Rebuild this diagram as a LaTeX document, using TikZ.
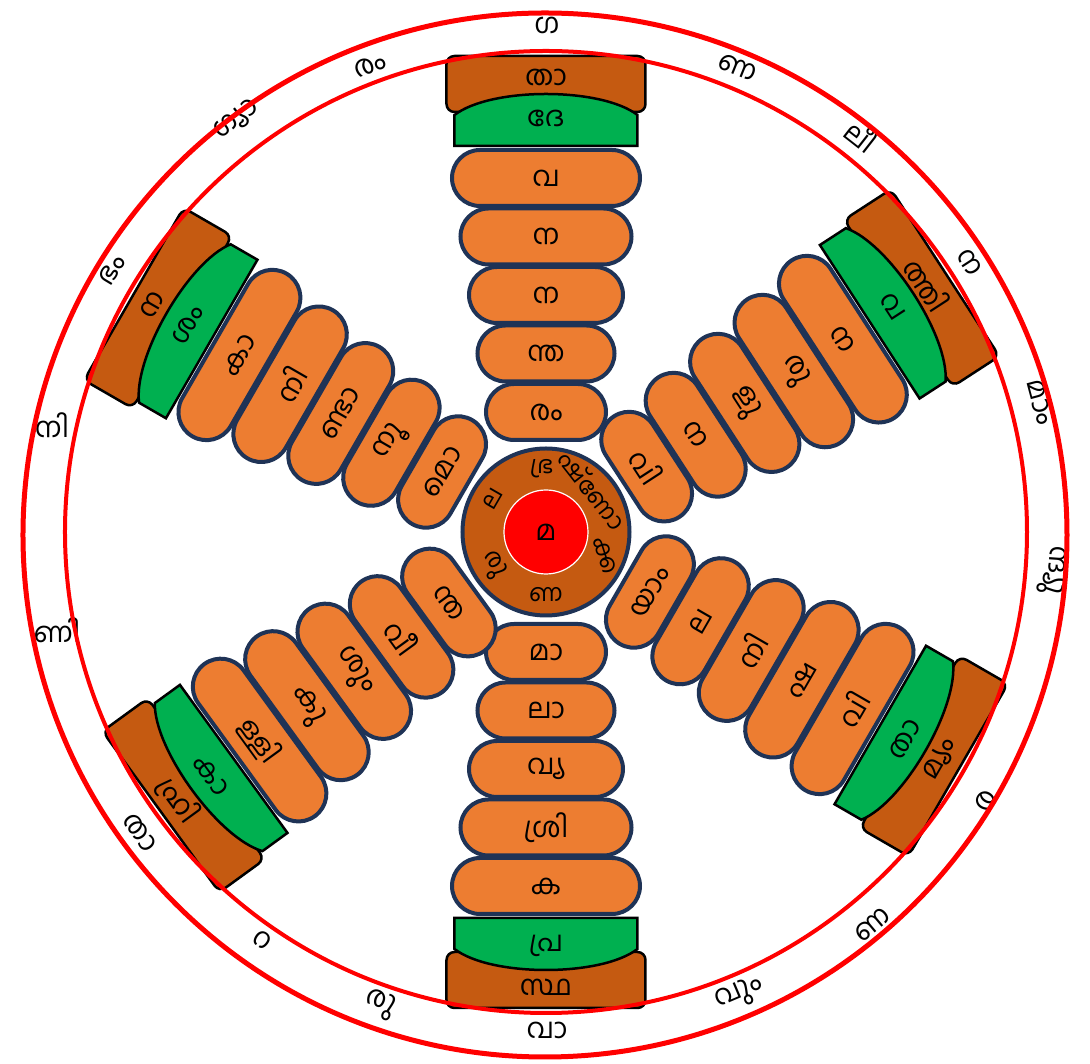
\documentclass[tikz,border=0pt]{standalone}
\usepackage{fontspec}
\newfontfamily\malfont[Script=Malayalam]{Hind Kochi}
\newcommand\mal{\malfont\fontsize{28}{30}\selectfont}
\newcommand\malsmall{\malfont\fontsize{24}{26}\selectfont}
\definecolor{pillorange}{HTML}{ED7D31}
\definecolor{pillnavy}{HTML}{1F3356}
\definecolor{capbrown}{HTML}{C55A11}
\definecolor{capgreen}{HTML}{00B050}
\definecolor{rimred}{HTML}{FF0000}

\begin{document}
\begin{tikzpicture}[x=1pt,y=1pt,
pill/.style={draw=pillnavy,line width=4pt,fill=pillorange,rounded corners=28pt,minimum height=56pt,inner sep=0pt,font=\mal},
capline/.style={draw=black,line width=2.5pt},
lbl/.style={font=\mal,inner sep=0pt},
hublbl/.style={font=\malsmall,inner sep=0pt},
hubring/.style={circle,draw=pillnavy,line width=4pt,fill=capbrown,minimum size=167pt,inner sep=0pt},
eye/.style={circle,draw=white,line width=1.2pt,fill=rimred,minimum size=84pt,inner sep=0pt,font=\mal},
rimline/.style={draw=rimred}]
\useasboundingbox (-546,-532) rectangle (544,532);
% six spokes: angle / text rotation / name / five pills (inner to outer) / green cap / brown cap
\foreach \ang/\rot/\nm/\ta/\tb/\tc/\td/\te/\tg/\th in {
  90/0/up/രം/ന്ത/ന/ന/വ/ദേ/താ,
  33/-57/ur/വി/ന/ളു/രു/ന/വ/ത്തി,
  -30/60/lr/യാം/ല/നി/ഷ/വി/താ/മ്യം,
  270/0/dn/മാ/ലാ/വ്യ/ശ്രി/ക/പ്ര/സ്ഥ,
  216/-54/ll/ന്ത/വീ/ശും/കു/ള്ളി/കാ/ഹ്രി,
  150/60/ul/മൊ/നൂ/ണ്ടാ/നി/കാ/ശം/ന}{
  \begin{scope}[rotate=\ang-90]
    \draw[capline,fill=capbrown,rounded corners=8pt] (-99.5,420) rectangle (99.5,476);
    \draw[capline,fill=capgreen] (-91.5,386) -- (-91.5,417) .. controls (-55,445) and (55,445) .. (91.5,417) -- (91.5,386) -- cycle;
    \node[lbl,rotate=\rot] (\nm b) at (0,455) {\th};
    \node[lbl,rotate=\rot] (\nm g) at (0,414) {\tg};
  \end{scope}
  \foreach \i/\t in {5/\te,4/\td,3/\tc,2/\tb,1/\ta}
    \node[pill,minimum width={103+17*\i},rotate=\rot] (\nm\i) at (\ang:{61.5+58.5*\i}) {\t};
}
% hub
\node[hubring] (hub) at (0,0) {};
\node[eye] (eye) at (0,0) {മ};
\foreach \a/\r/\t [count=\i] in {148/60/ല,94/0/ഭ്ര,42/-52/ഷ്ണോ,-22/-72/ക്ക,-90/0/ണ,212/-58/രു}
  \node[hublbl,rotate=\r] (hub\i) at (\a:63) {\t};
% rim letters
\foreach \x/\y/\r/\t [count=\i] in {
  1/507/0/ഗ, 192/465/-22/ണ, 316/397/-38/ലീ, 424/270/-57/ന,
  494/130/-75/മാം, 506/-38/-94/ന്ദ്യു, 439/-268/59/ര, 326/-393/40/ണ,
  194/-463/23/വും, 1/-498/0/വാ, -166/-473/-19/രു, -284/-408/-35/റ,
  -406/-301/-54/താ, -489/-98/0/ണി, -494/107/0/നി, -434/262/59/ഭം,
  -309/412/37/ഗ്യാ, -176/467/20/രം}
  \node[lbl,rotate=\r] (rim\i) at (\x,\y) {\t};
\draw[rimline,line width=5pt] (-1,-3) circle[radius=522];
\draw[rimline,line width=4pt] (0,0) circle[radius=481];
\end{tikzpicture}
\end{document}
